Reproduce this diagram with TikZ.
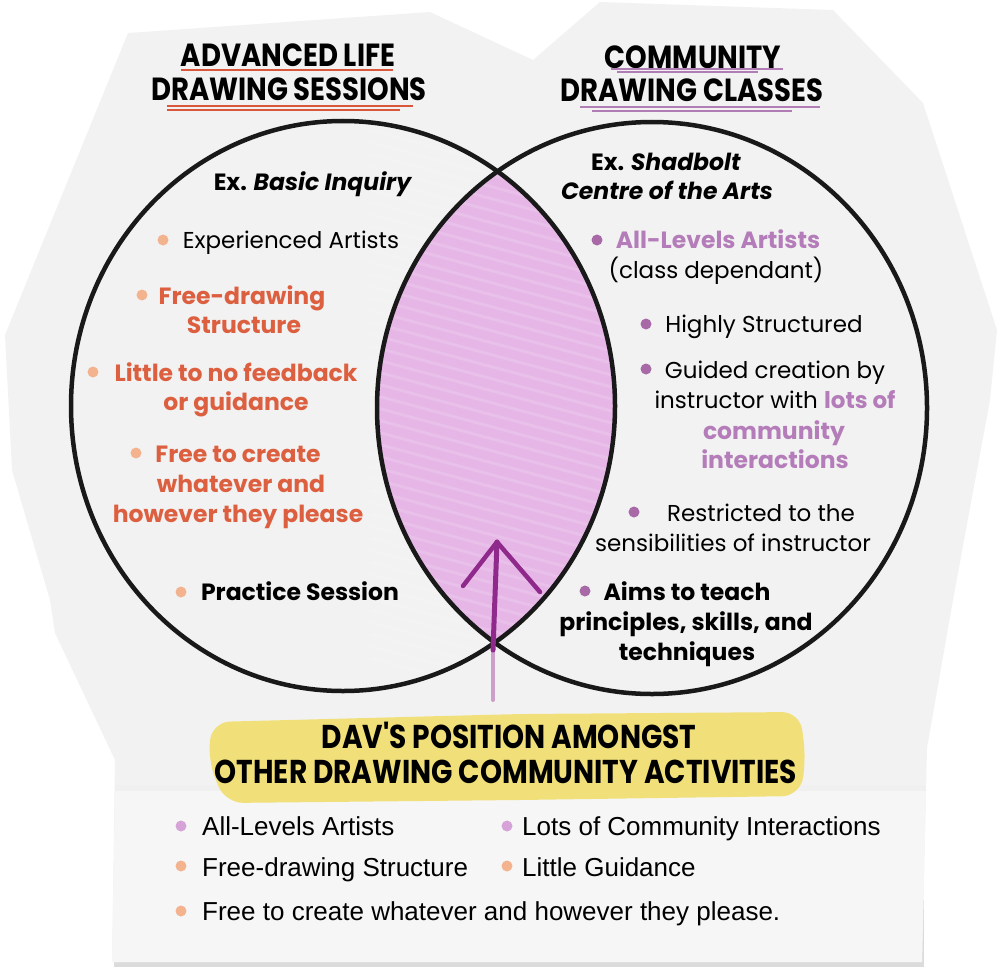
\documentclass[tikz,border=0pt]{standalone}
\usepackage{fontspec}
\setmainfont{Poppins}
\newfontfamily\narrowf{Liberation Sans}
\newfontfamily\titlef[FakeStretch=0.86]{Poppins}
\newfontfamily\bannerf[FakeStretch=0.85]{Poppins}
\usetikzlibrary{calc}
\definecolor{paper}{HTML}{F2F2F2}
\definecolor{paperlow}{HTML}{F6F6F6}
\definecolor{orangetxt}{HTML}{DC5F3F}
\definecolor{peach}{HTML}{F3B38F}
\definecolor{purpletxt}{HTML}{B47DBA}
\definecolor{purpledot}{HTML}{A86AA6}
\definecolor{lavdot}{HTML}{D6A3D8}
\definecolor{lensc}{HTML}{E6B6E6}
\definecolor{hilite}{HTML}{F1E07A}
\definecolor{arrowc}{HTML}{8F2A8C}
\definecolor{titleorange}{HTML}{D9583B}
\definecolor{titlepurple}{HTML}{B07DB5}
\tikzset{
  txt/.style={anchor=base, inner sep=0pt, font=\fontsize{23}{27}\selectfont},
  btxt/.style={txt, font=\fontsize{23.5}{27}\selectfont\bfseries},
  otxt/.style={btxt, text=orangetxt},
  ptxt/.style={btxt, text=purpletxt},
  ttl/.style={anchor=base, inner sep=0pt, font=\fontsize{32}{36}\titlef\bfseries},
  bnr/.style={anchor=base, inner sep=0pt, font=\fontsize{33}{37}\bannerf\bfseries},
  low/.style={anchor=base west, inner sep=0pt, font=\fontsize{26}{30}\narrowf},
  dotpeach/.style={circle, fill=peach, minimum size=11pt, inner sep=0pt},
  dotpurple/.style={circle, fill=purpledot, minimum size=11pt, inner sep=0pt},
  dotlav/.style={circle, fill=lavdot, minimum size=11pt, inner sep=0pt},
  ring/.style={line width=4.5pt, draw=black!90},
}
\begin{document}
\begin{tikzpicture}[x=1pt,y=-1pt]
\useasboundingbox (0,0) rectangle (1000,971);
% paper shadow and paper
\fill[black!14] (114,900) -- (924,900) -- (924,967) -- (114,967) -- cycle;
\fill[paper] (128,33) -- (430,12) -- (533,60) -- (600,2) -- (833,10) -- (923,103) -- (997,330) -- (990,400) -- (953,600) -- (927,748) -- (922,962) -- (112,962) -- (115,760) -- (55,633) -- (50,600) -- (12,470) -- (5,335) -- cycle;
\fill[paperlow] (115,790) -- (926,790) -- (922,962) -- (112,962) -- cycle;
\fill[black!6] (115,785) rectangle (926,791);
% lens
\begin{scope}
  \clip (343,406) ellipse [x radius=272pt, y radius=285pt];
  \fill[lensc] (652,408) ellipse [x radius=275pt, y radius=286pt];
  \foreach \i in {0,...,44} {
    \draw[white, opacity=0.14, line width=3pt] (370,{130+\i*12}) -- (630,{200+\i*12});
  }
\end{scope}
% circles
\draw[ring] (343,406) ellipse [x radius=272pt, y radius=285pt];
\draw[ring] (652,408) ellipse [x radius=275pt, y radius=286pt];
% arrow
\coordinate (abase) at (493,700);
\coordinate (amid) at (493,650);
\coordinate (atip) at (497,542);
\coordinate (aleft) at (463,586);
\coordinate (aright) at (540,592);
\draw[arrowc!45, line width=4pt, line cap=round] (abase) -- (amid);
\draw[arrowc, line width=5pt, line cap=round] (amid) -- (atip);
\draw[arrowc, line width=4.5pt, line cap=round] (atip) -- (aleft);
\draw[arrowc, line width=4.5pt, line cap=round] (atip) -- (aright);
% titles
\node[ttl] (t1a) at (288,67) {ADVANCED LIFE};
\node[ttl] (t1b) at (289,100) {DRAWING SESSIONS};
\node[ttl] (t2a) at (693,69) {COMMUNITY};
\node[ttl] (t2b) at (692,102) {DRAWING CLASSES};
\draw[titleorange, line width=2.5pt] (181,70) -- (393,70);
\draw[titleorange, line width=2.5pt] (167,106) -- (413,106);
\draw[titleorange, line width=2pt] (167,110) -- (400,110);
\draw[titlepurple, line width=2.5pt] (611,69) -- (783,69);
\draw[titlepurple, line width=2pt] (617,72) -- (758,72);
\draw[titlepurple, line width=2.5pt] (580,107) -- (820,107);
\draw[titlepurple, line width=2pt] (592,111) -- (792,111);
% left circle texts
\node[btxt] (l0) at (313,190) {Ex. \textit{Basic Inquiry}};
\node[dotpeach] (lb1) at (163,240) {};
\node[txt] (l1) at (291,248) {Experienced Artists};
\node[dotpeach] (lb2) at (142,295) {};
\node[otxt] (l2a) at (242,304) {Free-drawing};
\node[otxt] (l2b) at (244,333) {Structure};
\node[dotpeach] (lb3) at (93,372) {};
\node[otxt] (l3a) at (236,381) {Little to no feedback};
\node[otxt] (l3b) at (236,410) {or guidance};
\node[dotpeach] (lb4) at (136,453) {};
\node[otxt] (l4a) at (238,462) {Free to create};
\node[otxt] (l4b) at (241,492) {whatever and};
\node[otxt] (l4c) at (238,522) {however they please};
\node[dotpeach] (lb5) at (181,592) {};
\node[btxt] (l5) at (300,600) {Practice Session};
% right circle texts
\node[btxt] (r0a) at (666,170) {Ex. \textit{Shadbolt}};
\node[btxt] (r0b) at (667,199) {\textit{Centre of the Arts}};
\node[dotpurple] (rb1) at (597,240) {};
\node[ptxt] (r1a) at (718,248) {All-Levels Artists};
\node[txt] (r1b) at (716,278) {(class dependant)};
\node[dotpurple] (rb2) at (646,324) {};
\node[txt] (r2) at (764,332) {Highly Structured};
\node[dotpurple] (rb3) at (646,369) {};
\node[txt] (r3a) at (775,378) {Guided creation by};
\node[txt] (r3b) at (775,408) {instructor with \textcolor{purpletxt}{\bfseries lots of}};
\node[ptxt] (r3c) at (774,439) {community};
\node[ptxt] (r3d) at (775,468) {interactions};
\node[dotpurple] (rb4) at (634,512) {};
\node[txt] (r4a) at (761,521) {Restricted to the};
\node[txt] (r4b) at (733,551) {sensibilities of instructor};
\node[dotpurple] (rb5) at (585,591) {};
\node[btxt] (r5a) at (687,600) {Aims to teach};
\node[btxt] (r5b) at (686,630) {principles, skills, and};
\node[btxt] (r5c) at (687,660) {techniques};
% highlight banner
\fill[hilite, rounded corners=18pt] (212,722) -- (520,714) -- (800,712) -- (806,760) -- (800,796) -- (520,800) -- (225,803) -- (208,760) -- cycle;
\node[bnr] (h1) at (509,748) {DAV'S POSITION AMONGST};
\node[bnr] (h2) at (506,783) {OTHER DRAWING COMMUNITY ACTIVITIES};
% bottom list
\node[dotlav] (bb1) at (181,826) {};
\node[low] (bt1) at (202,835) {All-Levels Artists};
\node[dotlav] (bb2) at (507,826) {};
\node[low] (bt2) at (522,835) {Lots of Community Interactions};
\node[dotpeach] (bb3) at (181,866) {};
\node[low] (bt3) at (202,876) {Free-drawing Structure};
\node[dotpeach] (bb4) at (507,866) {};
\node[low] (bt4) at (522,876) {Little Guidance};
\node[dotpeach] (bb5) at (181,911) {};
\node[low] (bt5) at (202,920) {Free to create whatever and however they please.};
\end{tikzpicture}
\end{document}
